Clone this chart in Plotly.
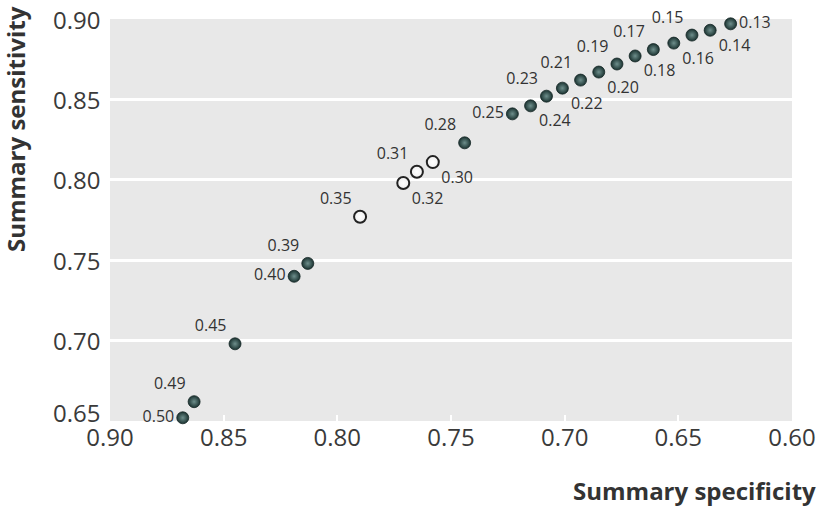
import plotly.graph_objects as go

thresholds = ["0.13", "0.14", "0.15", "0.16", "0.17", "0.18", "0.19", "0.20", "0.21", "0.22",
              "0.23", "0.24", "0.25", "0.28", "0.30", "0.31", "0.32", "0.35", "0.39", "0.40",
              "0.45", "0.49", "0.50"]
specificity = [0.627, 0.636, 0.644, 0.652, 0.661, 0.669, 0.677, 0.685, 0.693, 0.701,
               0.708, 0.715, 0.723, 0.744, 0.758, 0.765, 0.771, 0.790, 0.813, 0.819,
               0.845, 0.863, 0.868]
sensitivity = [0.897, 0.893, 0.890, 0.885, 0.881, 0.877, 0.872, 0.867, 0.862, 0.857,
               0.852, 0.846, 0.841, 0.823, 0.811, 0.805, 0.798, 0.777, 0.748, 0.740,
               0.698, 0.662, 0.652]
open_marker = [False]*14 + [True, True, True, True] + [False]*5
label_pos = ["middle right", "bottom right", "top left", "bottom right", "top left", "bottom right",
             "top left", "bottom right", "top left", "bottom right", "top left", "bottom right",
             "middle left", "top left", "bottom right", "top left", "bottom right", "top left",
             "top left", "middle left", "top left", "top left", "middle left"]

x_ticks = [0.90, 0.85, 0.80, 0.75, 0.70, 0.65, 0.60]
y_ticks = [0.65, 0.70, 0.75, 0.80, 0.85, 0.90]

FONT = "Open Sans"
TICK_FONT = dict(family=FONT, size=24, color="#3a3a3a")
fig = go.Figure()

for is_open in (False, True):
    idx = [i for i in range(len(thresholds)) if open_marker[i] == is_open]
    fig.add_trace(go.Scatter(
        x=[specificity[i] for i in idx],
        y=[sensitivity[i] for i in idx],
        text=[thresholds[i] for i in idx],
        textposition=[label_pos[i] for i in idx],
        mode="markers+text",
        textfont=dict(family=FONT, size=16, color="#333333"),
        marker=dict(
            size=12,
            color="#f0f0f0" if is_open else "#1b3331",
            gradient=dict(type="radial", color="#ffffff" if is_open else "#6e8f8c"),
            line=dict(color="#222222" if is_open else "#142624", width=2 if is_open else 0.8),
        ),
        cliponaxis=False,
        showlegend=False,
        hoverinfo="skip",
    ))

fig.update_xaxes(
    range=[0.90, 0.60], tickvals=x_ticks, ticktext=[f"{v:.2f}" for v in x_ticks],
    showgrid=False, zeroline=False, showline=False, automargin=False,
    ticks="inside", ticklen=6, tickwidth=2, tickcolor="white",
    tickfont=TICK_FONT,
)
fig.update_yaxes(
    range=[0.65, 0.90], tickvals=y_ticks, showticklabels=False,
    showgrid=True, gridcolor="white", gridwidth=3, zeroline=False, showline=False,
    ticks="", automargin=False,
)

annotations = []
for v in y_ticks:
    annotations.append(dict(
        text=f"{v:.2f}", xref="paper", yref="y", x=0, y=v, xanchor="right", yanchor="middle",
        xshift=-8, yshift=9 if v == y_ticks[0] else 0, showarrow=False, font=TICK_FONT))

annotations += [
    dict(text="<b>Summary specificity</b>", xref="paper", yref="paper",
         x=(818-110)/682, y=-(490-421)/402, xanchor="right", yanchor="middle",
         showarrow=False, font=dict(family=FONT, size=24, color="#333333")),
    dict(text="<b>Summary sensitivity</b>", xref="paper", yref="paper",
         x=-(110-15)/682, y=1+(19-4)/402, xanchor="center", yanchor="top",
         textangle=-90, showarrow=False, font=dict(family=FONT, size=24, color="#333333")),
]

fig.update_layout(
    width=824, height=508,
    margin=dict(l=110, r=32, t=19, b=87, autoexpand=False),
    plot_bgcolor="#e8e8e8", paper_bgcolor="white",
    annotations=annotations,
)

fig.write_html("out.html", config={"displayModeBar": False},
               post_script="document.body.style.margin='0';")
